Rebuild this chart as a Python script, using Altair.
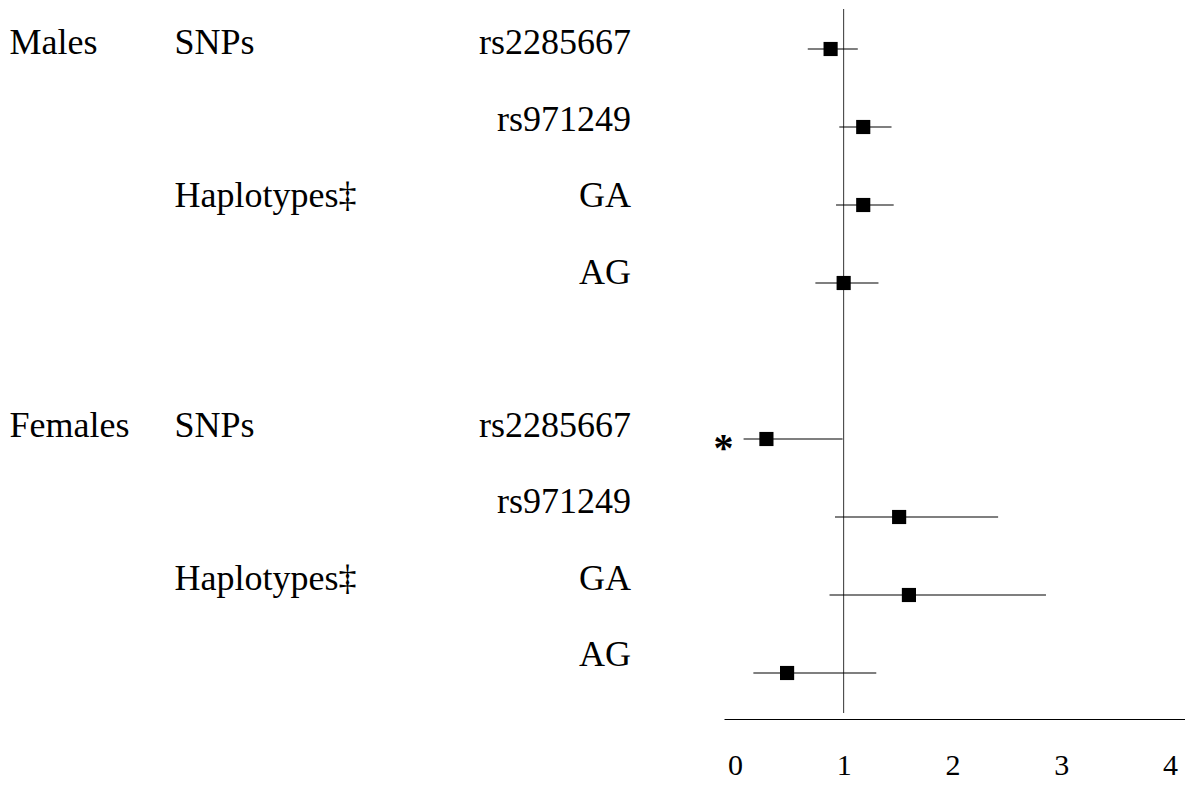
import altair as alt
import pandas as pd

# ---- data ----
group_labels = ["Males", "", "", "", "Females", "", "", ""]
type_labels = ["SNPs", "", "Haplotypes‡", "", "SNPs", "", "Haplotypes‡", ""]
markers = ["rs2285667", "rs971249", "GA", "AG", "rs2285667", "rs971249", "GA", "AG"]
odds_ratio = [0.88, 1.18, 1.18, 1.00, 0.29, 1.51, 1.60, 0.48]
ci_low = [0.67, 0.96, 0.93, 0.74, 0.08, 0.92, 0.87, 0.17]
ci_high = [1.13, 1.44, 1.46, 1.32, 0.99, 2.42, 2.86, 1.30]
significance = ["", "", "", "", "*", "", "", ""]
row_index = [0, 1, 2, 3, 5, 6, 7, 8]
null_value = [1]
x_ticks = [0, 1, 2, 3, 4]

df = pd.DataFrame({
    "group": group_labels,
    "type": type_labels,
    "marker": markers,
    "or": odds_ratio,
    "lo": ci_low,
    "hi": ci_high,
    "sig": significance,
    "row": row_index,
})
ref_df = pd.DataFrame({"ref": null_value})

FONT = "Liberation Serif"

xscale = alt.Scale(domain=[-0.1, 4.138], range=[716, 1177], nice=False, zero=False)
yscale_pts = alt.Scale(domain=[0, 8], range=[39, 663], nice=False, zero=False)
yscale_txt = alt.Scale(domain=[0, 8], range=[44, 656], nice=False, zero=False)

x_axis = alt.Axis(
    values=x_ticks, format="d", ticks=False, tickSize=0, grid=False,
    domain=True, domainColor="black", domainWidth=1,
    labelFont=FONT, labelFontSize=30, labelColor="black", labelPadding=31,
    title=None,
)

base = alt.Chart(df)

ref = alt.Chart(ref_df).mark_rule(color="#333333", strokeWidth=1).encode(
    x=alt.X("ref:Q", scale=xscale, axis=x_axis),
    y=alt.value(-1),
    y2=alt.value(703),
)

ci = base.mark_rule(color="black", strokeWidth=1.2).encode(
    x=alt.X("lo:Q", scale=xscale, axis=x_axis),
    x2="hi:Q",
    y=alt.Y("row:Q", scale=yscale_pts, axis=None),
)

pts = base.mark_square(size=200, color="black", opacity=1, filled=True).encode(
    x=alt.X("or:Q", scale=xscale, axis=x_axis),
    y=alt.Y("row:Q", scale=yscale_pts, axis=None),
)

sig = base.mark_text(
    font=FONT, fontSize=40, fontWeight="bold", color="black",
    align="center", baseline="alphabetic", dx=-20, dy=22,
).encode(
    x=alt.X("lo:Q", scale=xscale, axis=x_axis),
    y=alt.Y("row:Q", scale=yscale_pts, axis=None),
    text="sig:N",
)

def label_layer(field, xpos, align):
    return base.mark_text(
        font=FONT, fontSize=36, color="black", align=align, baseline="alphabetic",
    ).encode(
        x=alt.value(xpos),
        y=alt.Y("row:Q", scale=yscale_txt, axis=None),
        text=f"{field}:N",
    )

g_txt = label_layer("group", 1.5, "left")
t_txt = label_layer("type", 166.5, "left")
m_txt = label_layer("marker", 623, "right")

chart = alt.layer(ref, ci, pts, sig, g_txt, t_txt, m_txt).resolve_scale(
    y="independent"
).properties(
    width=1177, height=709, padding=0, background="white",
).configure_view(strokeWidth=0)

chart.save("out.html", embed_options={"renderer": "svg", "actions": False})
